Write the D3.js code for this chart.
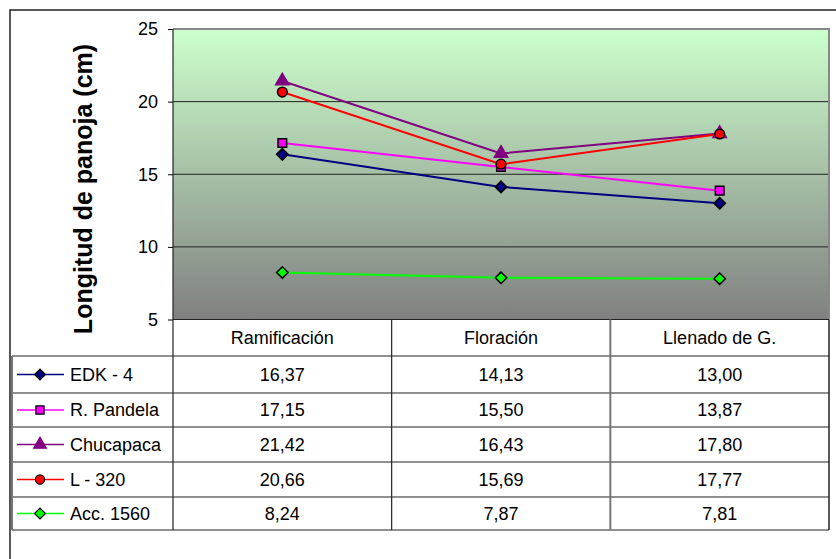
<!DOCTYPE html>
<html>
<head>
<meta charset="utf-8">
<script src="https://cdn.jsdelivr.net/npm/d3@7"></script>
<style>
  html, body { margin: 0; padding: 0; background: #fff; }
  svg { display: block; font-family: "Liberation Sans", Arial, sans-serif; }
</style>
</head>
<body>
<svg id="chart" width="836" height="559"></svg>
<script>
// Panicle length (cm) per phenological stage and variety
const stages = ["Ramificación", "Floración", "Llenado de G."];
const varieties = ["EDK - 4", "R. Pandela", "Chucapaca", "L - 320", "Acc. 1560"];
const edk4 = [16.37, 14.13, 13.00];
const rPandela = [17.15, 15.50, 13.87];
const chucapaca = [21.42, 16.43, 17.80];
const l320 = [20.66, 15.69, 17.77];
const acc1560 = [8.24, 7.87, 7.81];
const yTicks = [5, 10, 15, 20, 25];
const yTitle = "Longitud de panoja (cm)";

const seriesValues = [edk4, rPandela, chucapaca, l320, acc1560];
const styles = [
  { color: "#000080", fill: "#000080", shape: "diamond", stroke: "#000" },
  { color: "#ff00ff", fill: "#ff00ff", shape: "square", stroke: "#000" },
  { color: "#800080", fill: "#800080", shape: "triangle", stroke: "#800080" },
  { color: "#ff0000", fill: "#ff0000", shape: "circle", stroke: "#000" },
  { color: "#00ff00", fill: "#00ff00", shape: "diamond", stroke: "#000" }
];
const series = varieties.map((name, i) => ({ name, values: seriesValues[i], ...styles[i] }));

const svg = d3.select("#chart");

// Layout
const plot = { left: 173, right: 829, top: 29, bottom: 319.5 };
const tableLeft = 12;
const rowEdges = [319.5, 356, 393, 427, 462, 497, 530];

const x = d3.scaleBand().domain(stages).range([plot.left, plot.right]);
const y = d3.scaleLinear().domain([5, 25]).range([plot.bottom, plot.top]);

// Outer frame
svg.append("rect")
  .attr("x", 10).attr("y", 10)
  .attr("width", 840).attr("height", 560)
  .attr("fill", "none").attr("stroke", "#222").attr("stroke-width", 1.5);

// Plot background gradient
const defs = svg.append("defs");
const grad = defs.append("linearGradient")
  .attr("id", "bg").attr("x1", 0).attr("y1", 0).attr("x2", 0).attr("y2", 1);
grad.append("stop").attr("offset", "0%").attr("stop-color", "#ccffcc");
grad.append("stop").attr("offset", "100%").attr("stop-color", "#808080");

svg.append("rect")
  .attr("x", plot.left).attr("y", plot.top)
  .attr("width", plot.right - plot.left).attr("height", plot.bottom - plot.top)
  .attr("fill", "url(#bg)");

// Gridlines
svg.append("g").selectAll("line")
  .data(yTicks.filter(t => t > 5 && t < 25))
  .join("line")
  .attr("x1", plot.left).attr("x2", plot.right)
  .attr("y1", d => y(d)).attr("y2", d => y(d))
  .attr("stroke", "#222").attr("stroke-width", 1);

// Plot border (top and right)
svg.append("path")
  .attr("d", `M${plot.left},${plot.top}H${plot.right}V${plot.bottom}`)
  .attr("fill", "none").attr("stroke", "#888").attr("stroke-width", 2);

// Y axis
const yAxis = svg.append("g")
  .attr("transform", `translate(${plot.left},0)`)
  .call(d3.axisLeft(y).tickValues(yTicks).tickSize(5).tickPadding(10).tickFormat(d3.format("d")));
yAxis.select(".domain").remove();
yAxis.selectAll(".tick line").attr("stroke", "#000");
yAxis.selectAll(".tick text")
  .attr("fill", "#000")
  .style("font-size", "18px")
  .style("font-family", "'Liberation Sans', Arial, sans-serif");

// Y axis title
svg.append("text")
  .attr("transform", "translate(83,189) rotate(-90)")
  .attr("text-anchor", "middle")
  .attr("dominant-baseline", "central")
  .style("font-size", "25px")
  .style("font-weight", "bold")
  .attr("fill", "#000")
  .text(yTitle);

// Marker symbols
function symbolPath(shape, scale = 1) {
  if (shape === "diamond") return d3.symbol(d3.symbolSquare, 66 * scale)();
  if (shape === "square") return d3.symbol(d3.symbolSquare, 74 * scale)();
  if (shape === "triangle") return d3.symbol(d3.symbolTriangle, 78 * scale)();
  return d3.symbol(d3.symbolCircle, 74 * scale)();
}
function rotation(shape) { return shape === "diamond" ? 45 : 0; }

const line = d3.line()
  .x((d, i) => x(stages[i]) + x.bandwidth() / 2)
  .y(d => y(d));

const seriesG = svg.append("g").selectAll("g").data(series).join("g");
seriesG.append("path")
  .attr("d", d => line(d.values))
  .attr("fill", "none")
  .attr("stroke", d => d.color)
  .attr("stroke-width", 2);

seriesG.each(function (s) {
  d3.select(this).selectAll("path.mark")
    .data(s.values)
    .join("path")
    .attr("class", "mark")
    .attr("d", symbolPath(s.shape))
    .attr("transform", (v, i) =>
      `translate(${x(stages[i]) + x.bandwidth() / 2},${y(v)}) rotate(${rotation(s.shape)})`)
    .attr("fill", s.fill)
    .attr("stroke", s.stroke)
    .attr("stroke-width", 1.5);
});

// Data table
const table = svg.append("g");
const rowMid = i => (rowEdges[i] + rowEdges[i + 1]) / 2;

// Header labels
table.selectAll("text.head")
  .data(stages)
  .join("text")
  .attr("class", "head")
  .attr("x", d => x(d) + x.bandwidth() / 2)
  .attr("y", rowMid(0))
  .attr("text-anchor", "middle")
  .attr("dominant-baseline", "central")
  .style("font-size", "18px")
  .attr("fill", "#000")
  .text(d => d);

// Horizontal rules
table.selectAll("line.hrule")
  .data(rowEdges.slice(1))
  .join("line")
  .attr("class", "hrule")
  .attr("x1", tableLeft).attr("x2", plot.right)
  .attr("y1", d => d).attr("y2", d => d)
  .attr("stroke", "#222").attr("stroke-width", 1.2);

// Top rule of the table / category axis line
table.append("line")
  .attr("x1", plot.left).attr("x2", plot.right)
  .attr("y1", rowEdges[0]).attr("y2", rowEdges[0])
  .attr("stroke", "#222").attr("stroke-width", 1.2);

// Vertical rules
const vRules = [
  { x: tableLeft, y1: rowEdges[1], color: "#777", w: 2 },
  { x: plot.left, y1: plot.top, color: "#222", w: 1.2 },
  { x: x(stages[1]), y1: rowEdges[0], color: "#222", w: 1.2 },
  { x: x(stages[2]), y1: rowEdges[0], color: "#777", w: 2 },
  { x: plot.right, y1: rowEdges[0], color: "#222", w: 1.5 }
];
table.selectAll("line.vrule")
  .data(vRules)
  .join("line")
  .attr("class", "vrule")
  .attr("x1", d => d.x).attr("x2", d => d.x)
  .attr("y1", d => d.y1).attr("y2", rowEdges[rowEdges.length - 1])
  .attr("stroke", d => d.color).attr("stroke-width", d => d.w);

// Rows: legend key, name and values
const fmt = v => v.toFixed(2).replace(".", ",");
const rows = table.selectAll("g.row")
  .data(series)
  .join("g")
  .attr("class", "row")
  .attr("transform", (d, i) => `translate(0,${rowMid(i + 1)})`);

rows.append("line")
  .attr("x1", 17).attr("x2", 64)
  .attr("y1", 0).attr("y2", 0)
  .attr("stroke", d => d.color).attr("stroke-width", 1.5);
rows.append("path")
  .attr("d", d => symbolPath(d.shape, 0.9))
  .attr("transform", d => `translate(40,0) rotate(${rotation(d.shape)})`)
  .attr("fill", d => d.fill)
  .attr("stroke", d => d.stroke)
  .attr("stroke-width", 1.2);
rows.append("text")
  .attr("x", 70).attr("y", 0)
  .attr("dominant-baseline", "central")
  .style("font-size", "18px")
  .attr("fill", "#000")
  .text(d => d.name);
rows.selectAll("text.val")
  .data(d => d.values)
  .join("text")
  .attr("class", "val")
  .attr("x", (v, i) => x(stages[i]) + x.bandwidth() / 2)
  .attr("y", 0)
  .attr("text-anchor", "middle")
  .attr("dominant-baseline", "central")
  .style("font-size", "18px")
  .attr("fill", "#000")
  .text(v => fmt(v));
</script>
</body>
</html>
